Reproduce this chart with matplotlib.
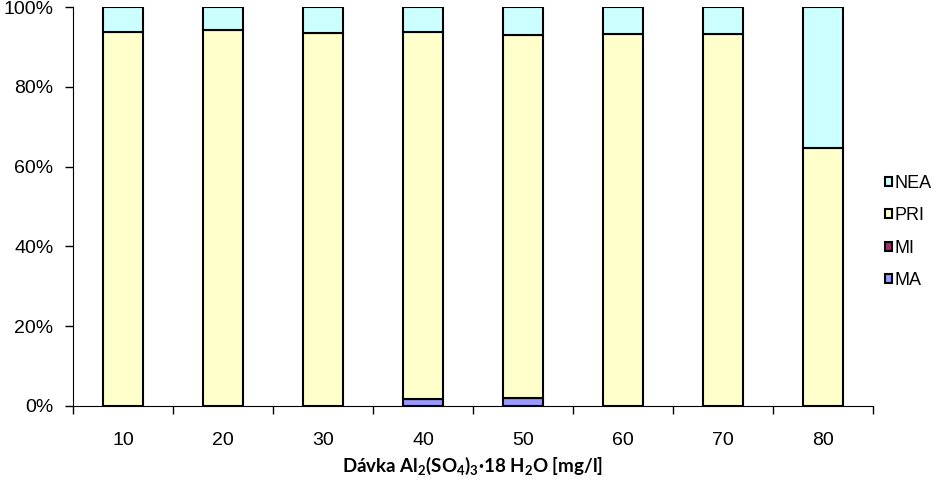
import numpy as np
import matplotlib
matplotlib.use("Agg")
import matplotlib.pyplot as plt
from matplotlib.ticker import PercentFormatter

plt.rcParams['font.family'] = ['Liberation Sans', 'DejaVu Sans']
plt.rcParams['mathtext.fontset'] = 'custom'
plt.rcParams['mathtext.rm'] = 'Lato:bold'
plt.rcParams['mathtext.it'] = 'Lato:bold'
plt.rcParams['mathtext.bf'] = 'Lato:bold'

# Data (percent shares)
davka = ['10', '20', '30', '40', '50', '60', '70', '80']
ma = [0.0, 0.0, 0.0, 1.7, 2.0, 0.0, 0.0, 0.0]
mi = [0.0, 0.0, 0.0, 0.0, 0.0, 0.0, 0.0, 0.0]
pri = [93.7, 94.2, 93.5, 92.0, 91.0, 93.2, 93.2, 64.7]
nea = [100 - a - b - c for a, b, c in zip(ma, mi, pri)]

series = [('MA', ma, '#9999FF'), ('MI', mi, '#993366'),
          ('PRI', pri, '#FFFFCC'), ('NEA', nea, '#CCFFFF')]

fig = plt.figure(figsize=(9.42, 4.82), dpi=100)
ax = fig.add_axes([73 / 942, 76 / 482, 800 / 942, 399 / 482])

x = np.arange(len(davka))
bottom = np.zeros(len(davka))
for name, vals, col in series:
    ax.bar(x, vals, width=0.4, bottom=bottom, color=col,
           edgecolor='black', linewidth=1.5, label=name)
    bottom += np.array(vals)

ax.set_xlim(-0.5, len(davka) - 0.5)
ax.set_ylim(0, 100)
ax.set_yticks(np.arange(0, 101, 20))
ax.yaxis.set_major_formatter(PercentFormatter(decimals=0))
ax.set_xticks(x)
ax.set_xticklabels(davka)
ax.set_xticks(np.arange(-0.5, len(davka)), minor=True)
ax.tick_params(axis='x', which='major', length=0, pad=19, labelsize=14)
ax.tick_params(axis='x', which='minor', length=6, width=1)
ax.tick_params(axis='y', length=6, width=1, pad=8, labelsize=14)

for s in ['top', 'right']:
    ax.spines[s].set_visible(False)

ax.set_xlabel(r'Dávka Al$_2$(SO$_4$)$_3$·18 H$_2$O [mg/l]',
              fontsize=13.5, family='Lato', fontweight='bold', labelpad=4)

handles, labels = ax.get_legend_handles_labels()
ax.legend(handles[::-1], labels[::-1], loc='center left',
          bbox_to_anchor=(1.0 + 12 / 800, 0.436), frameon=False, fontsize=13,
          handlelength=0.4, handleheight=0.4, handletextpad=0.15,
          labelspacing=0.85, borderaxespad=0.0, borderpad=0.0)

fig.savefig('out.png', dpi=100)
